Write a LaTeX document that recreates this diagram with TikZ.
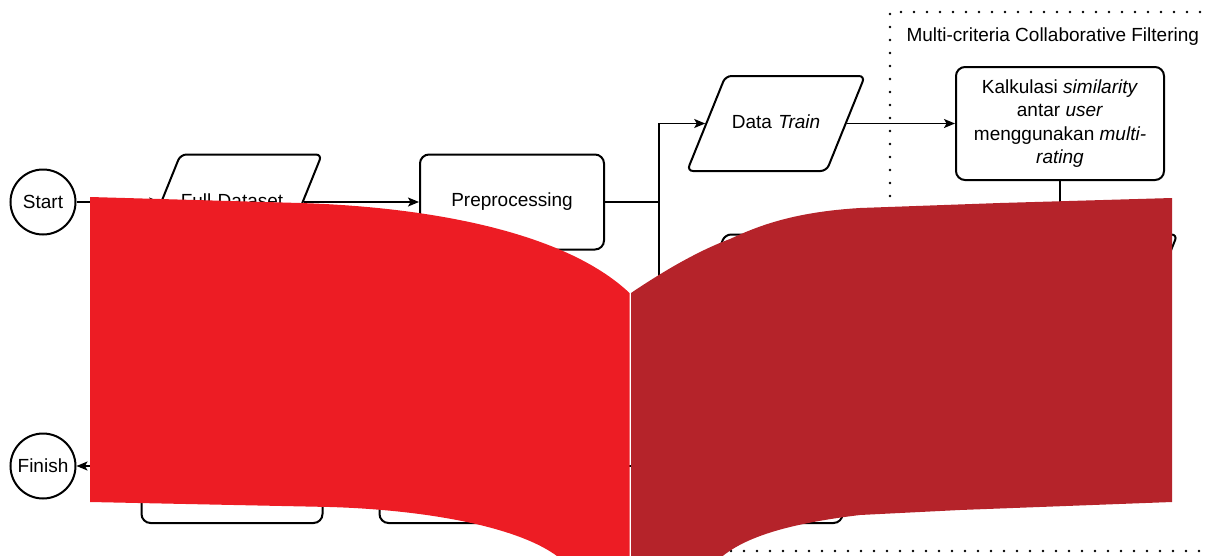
\documentclass[tikz,border=0pt]{standalone}
\usepackage{fontspec}
\setmainfont{Liberation Sans}
\usetikzlibrary{positioning,shapes.geometric,arrows.meta}

\definecolor{blobleft}{RGB}{237,28,36}
\definecolor{blobright}{RGB}{181,35,42}

\begin{document}
\begin{tikzpicture}[x=1pt,y=-1pt,
  term/.style={draw=black,circle,line width=2pt,minimum size=65pt,inner sep=0pt,font=\fontsize{19}{23}\selectfont},
  data/.style={draw=black,trapezium,trapezium left angle=68,trapezium right angle=112,inner xsep=0pt,inner ysep=38.5pt,text height=14pt,text depth=4pt,align=center,rounded corners=6pt,line width=2pt,font=\fontsize{19}{23}\selectfont},
  proc/.style={draw=black,rounded corners=9pt,line width=2pt,minimum height=95pt,align=center,font=\fontsize{19}{23.3}\selectfont},
  flow/.style={line width=1.5pt,-{Stealth[length=11pt,width=9pt,inset=2.5pt]}},
  link/.style={line width=1.5pt},
  group/.style={line width=2.6pt,dash pattern=on 0pt off 13pt,line cap=round}]

\useasboundingbox (0,0) rectangle (1208,555);

\node[term] (start)  at (43,202)                        {Start};
\node[data,text width=103pt] (full)  [on grid,right=189pt of start] {Full Dataset};
\node[proc,minimum width=184pt] (prep)  [on grid,right=280pt of full]  {Preprocessing};
\coordinate[on grid,right=147pt of prep]   (split);
\coordinate[on grid,below=130pt of split]  (splitend);

\node[data,text width=101pt] (train) at (776,123.5) {Data \textit{Train}};
\node[proc,minimum width=208pt,minimum height=113pt] (kalk) [on grid,right=284pt of train]
  {Kalkulasi \textit{similarity}\\antar \textit{user}\\menggunakan \textit{multi-}\\\textit{rating}};
\node[data,text width=414pt] (lower) [on grid,below=158.5pt of kalk,xshift=-128pt] {};

\node[term] (finish) [on grid,below=264pt of start] {Finish};
\node[proc,minimum width=181pt,minimum height=114pt] (res1) [on grid,below=264pt of full] {};
\node[proc,minimum width=181pt,minimum height=114pt] (res2) [on grid,right=238pt of res1] {};
\node[proc,minimum width=181pt,minimum height=114pt] (res3) [on grid,right=282pt of res2] {};

\draw[flow] (start) -- (full);
\draw[flow] (full) -- (prep);
\draw[link] (prep) -- (split);
\draw[flow] (split) |- (train);
\draw[link] (split) -- (splitend);
\draw[flow] (train) -- (kalk);
\draw[flow] (kalk) -- (kalk.south |- lower.north);
\draw[flow] (res3) -- (res2);
\draw[flow] (res1) -- (finish);

% group frame
\node[anchor=base west,font=\fontsize{19}{23}\selectfont] (grouptitle) at (903,41) {Multi-criteria Collaborative Filtering};
\draw[group] (890,300) -- (890,12) -- (1215,12);
\draw[group] (640,551) -- (1215,551);

% red cover
\fill[blobleft] (90,197) -- (300,203) .. controls (430,207) and (565,232) .. (629.5,293)
  -- (629.5,560) -- (562,560) .. controls (525,528) and (430,510) .. (330,507) -- (90,502) -- cycle;
\fill[blobright] (631,293) .. controls (665,270) and (700,250) .. (730,239) .. controls (760,225) and (795,212) .. (860,208)
  -- (1000,203) -- (1172,198) -- (1172,502) -- (960,510) -- (860,515) .. controls (785,524) and (742,538) .. (718,560) -- (631,560) -- cycle;

\end{tikzpicture}
\end{document}
